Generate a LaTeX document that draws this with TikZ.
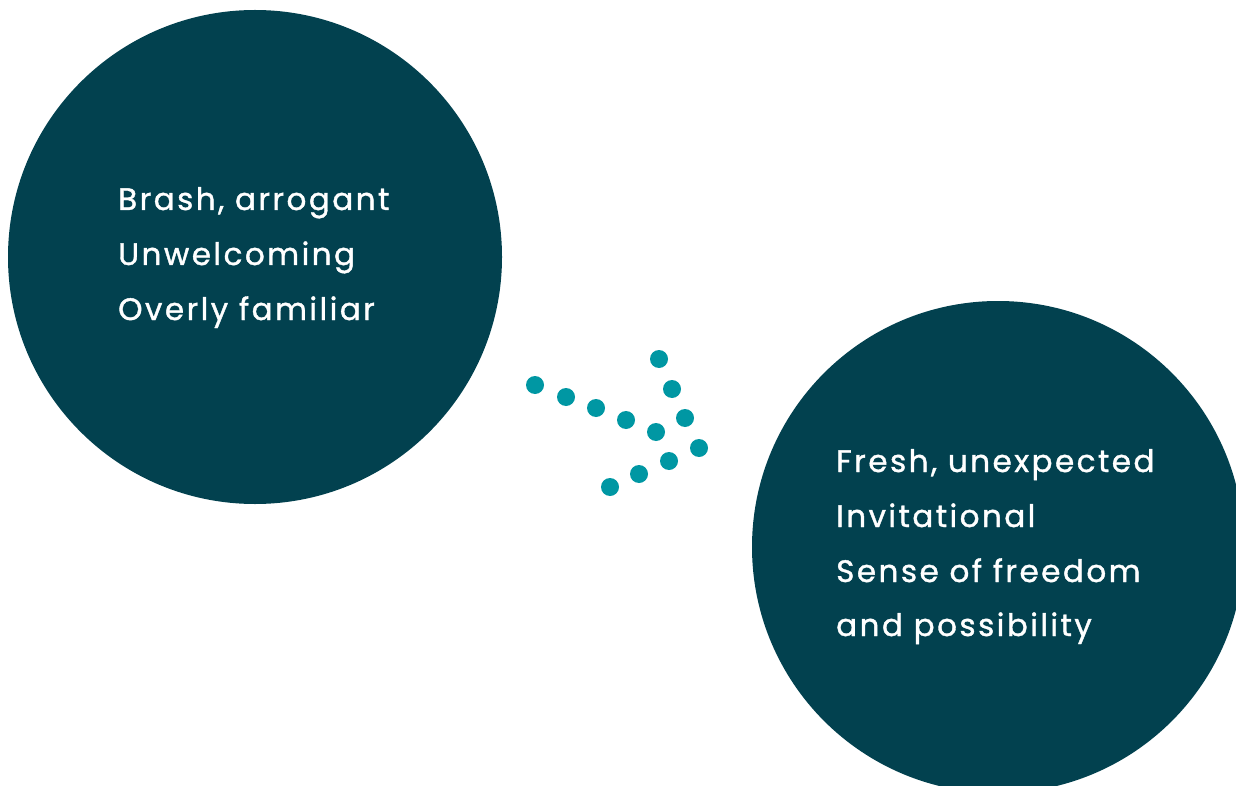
\documentclass[tikz,border=0pt]{standalone}
\usepackage{fontspec}
\setmainfont{Poppins}[LetterSpace=8, FakeBold=1.2]
\definecolor{circ}{HTML}{02414F}
\definecolor{dotc}{HTML}{0097A3}
\tikzset{
  bigcirc/.style={circle, fill=circ, draw=none, inner sep=0pt},
  dotnode/.style={circle, fill=dotc, draw=none, inner sep=0pt, minimum size=18pt},
  lbl/.style={anchor=base west, text=white, font=\fontsize{31}{31}\selectfont, inner sep=0pt}
}
\begin{document}
\begin{tikzpicture}[x=1pt,y=-1pt]
\useasboundingbox (0,0) rectangle (1236,786);
\clip (0,0) rectangle (1236,786);
\node[bigcirc, minimum size=494pt] (left) at (255,257) {};
\node[bigcirc, minimum size=492pt] (right) at (998,547) {};
% text
\node[lbl] (l1) at (118,210) {Brash, arrogant};
\node[lbl] (l2) at (118,265) {Unwelcoming};
\node[lbl] (l3) at (118,320) {Overly familiar};
\node[lbl] (r1) at (836,472) {Fresh, unexpected};
\node[lbl] (r2) at (836,527) {Invitational};
\node[lbl] (r3) at (836,582) {Sense of freedom};
\node[lbl] (r4) at (836,636) {and possibility};
% dotted arrow
\foreach \n/\x/\y in {a1/535/385, a2/566/397, a3/596/408, a4/626/420, a5/656/432,
  b1/659/359, b2/672/389, b3/685/418, tip/699/448,
  c1/669/461, c2/639/474, c3/610/487}
  \node[dotnode] (\n) at (\x,\y) {};
\end{tikzpicture}
\end{document}
